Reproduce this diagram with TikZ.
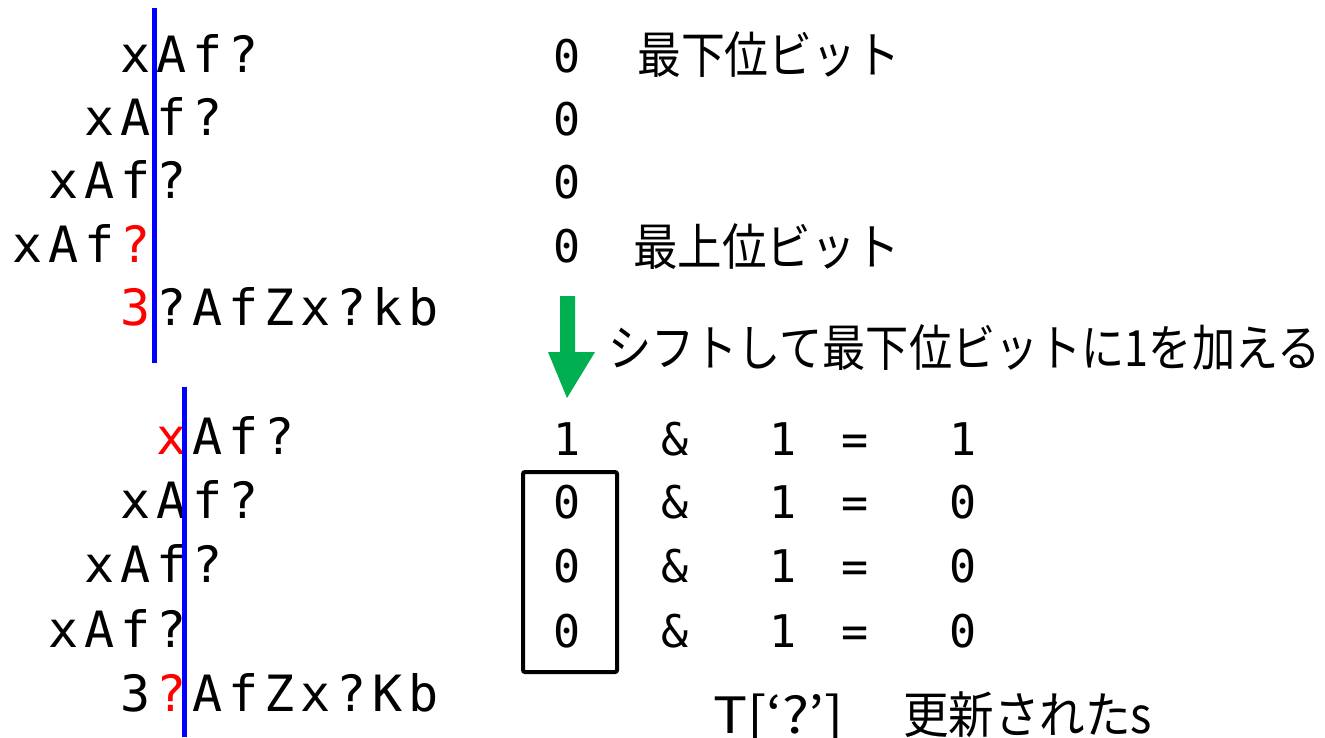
\documentclass[tikz,border=0pt]{standalone}
\usepackage{fontspec}
\setmonofont{DejaVu Sans Mono}
\newfontfamily\jp{Noto Sans CJK JP}
\definecolor{bitgreen}{RGB}{0,176,80}
\newcommand\cb[1]{\makebox[36pt][c]{#1}}
\newcommand\rd[1]{\textcolor{red}{#1}}
\newcommand\fitw[2]{\resizebox{#1}{\height}{#2}}
\begin{document}
\begin{tikzpicture}[x=1pt,y=-1pt,
  mono/.style={inner sep=0pt,anchor=base west,font=\ttfamily\fontsize{50pt}{60pt}\selectfont},
  digit/.style={inner sep=0pt,anchor=base,font=\ttfamily\fontsize{45pt}{54pt}\selectfont},
  jtext/.style={inner sep=0pt,anchor=base west,font=\jp\fontsize{50pt}{60pt}\selectfont},
  divider/.style={blue,line width=5pt}]
\useasboundingbox (0,0) rectangle (1325,737);
% top block
\node[mono] (t1) at (117,72)  {\cb{x}\cb{A}\cb{f}\cb{?}};
\node[mono] (t2) at (81,135)  {\cb{x}\cb{A}\cb{f}\cb{?}};
\node[mono] (t3) at (45,198)  {\cb{x}\cb{A}\cb{f}\cb{?}};
\node[mono] (t4) at (9,262)   {\cb{x}\cb{A}\cb{f}\cb{\rd{?}}};
\node[mono] (t5) at (117,325) {\cb{\rd{3}}\cb{?}\cb{A}\cb{f}\cb{Z}\cb{x}\cb{?}\cb{k}\cb{b}};
\coordinate (ta) at (154,8);
\coordinate (tb) at (154,363);
\draw[divider] (ta) -- (tb);
% bottom block
\node[mono] (b1) at (153,454) {\cb{\rd{x}}\cb{A}\cb{f}\cb{?}};
\node[mono] (b2) at (117,518) {\cb{x}\cb{A}\cb{f}\cb{?}};
\node[mono] (b3) at (81,582)  {\cb{x}\cb{A}\cb{f}\cb{?}};
\node[mono] (b4) at (45,647)  {\cb{x}\cb{A}\cb{f}\cb{?}};
\node[mono] (b5) at (117,711) {\cb{3}\cb{\rd{?}}\cb{A}\cb{f}\cb{Z}\cb{x}\cb{?}\cb{K}\cb{b}};
\coordinate (ba) at (184,387);
\coordinate (bb) at (184,737);
\draw[divider] (ba) -- (bb);
% top right
\node[digit] (z1) at (567,72)  {0};
\node[digit] (z2) at (567,135) {0};
\node[digit] (z3) at (567,198) {0};
\node[digit] (z4) at (567,262) {0};
\node[jtext] (low) at (637,73) {\fitw{263pt}{最下位ビット}};
\node[jtext] (high) at (633,265) {\fitw{267pt}{最上位ビット}};
% arrow
\fill[bitgreen] (560,296) -- (575,296) -- (575,352) -- (595,352) -- (567,398) -- (548,352) -- (560,352) -- cycle;
\node[jtext] (shift) at (608,366) {\fitw{712pt}{シフトして最下位ビットに1を加える}};
% bottom right
\foreach \r/\y/\a/\c in {1/455/1/1, 2/518/0/0, 3/582/0/0, 4/647/0/0}{
  \node[digit] (a\r) at (567,\y) {\a};
  \node[digit] (amp\r) at (675,\y) {\&};
  \node[digit] (one\r) at (783,\y) {1};
  \node[digit] (eq\r) at (855,\y) {=};
  \node[digit] (res\r) at (963,\y) {\c};
}
\draw[line width=4pt,rounded corners=2pt] (523,472) rectangle (617,672);
\node[jtext] (tq) at (713,733) {\fitw{130pt}{T[‘?’]}};
\node[jtext] (upd) at (903,733) {\fitw{249pt}{更新されたs}};
\end{tikzpicture}
\end{document}
